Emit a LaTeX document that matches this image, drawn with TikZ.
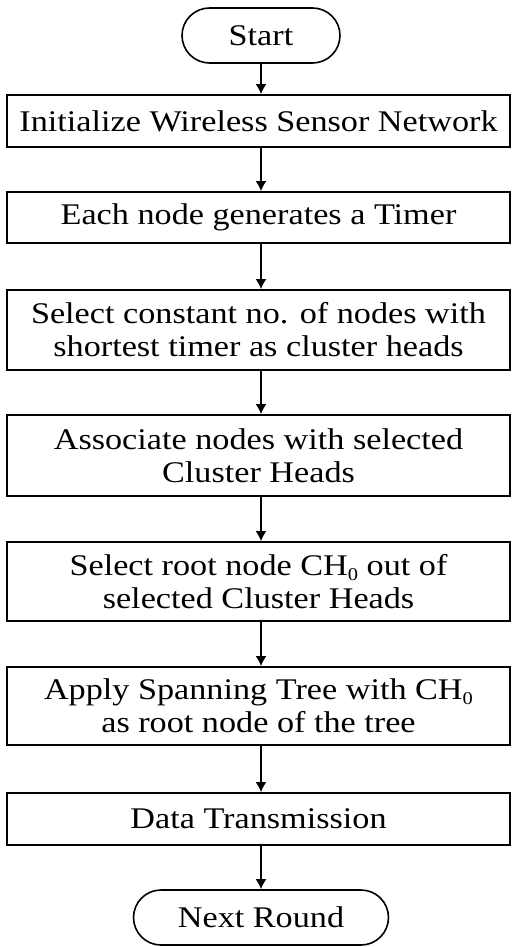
\documentclass[tikz,border=0pt]{standalone}
\usepackage{fontspec}
\setmainfont[FakeStretch=1.14]{Liberation Serif}
\usetikzlibrary{arrows.meta,shapes.misc}
\newcommand{\subzero}{\raisebox{-5pt}{\fontsize{18}{18}\selectfont 0}}
\begin{document}
\begin{tikzpicture}[x=1pt,y=-1pt,
  every node/.style={font=\fontsize{30}{33}\selectfont, align=center, inner sep=0pt},
  stepbox/.style={draw, line width=1.8pt, minimum width=503pt},
  term/.style={draw, line width=1.6pt, rounded rectangle, minimum height=55pt},
  conn/.style={line width=1.8pt, -{Latex[width=11pt,length=10pt]}}]
\useasboundingbox (0,0) rectangle (511,947);
\node[term, minimum width=158pt] (s) at (261,35.5) {Start};
\node[stepbox, minimum height=52pt] (b1) at (258.5,121) {Initialize Wireless Sensor Network};
\node[stepbox, minimum height=51pt] (b2) at (258.5,217.5) {Each node generates a Timer};
\node[stepbox, minimum height=80pt] (b3) at (258.5,330) {Select constant no. of nodes with\\shortest timer as cluster heads};
\node[stepbox, minimum height=81pt] (b4) at (258.5,455.5) {Associate nodes with selected\\Cluster Heads};
\node[stepbox, minimum height=79pt] (b5) at (258.5,581.5) {Select root node CH\subzero{} out of\\selected Cluster Heads};
\node[stepbox, minimum height=78pt] (b6) at (258.5,706) {Apply Spanning Tree with CH\subzero\\as root node of the tree};
\node[stepbox, minimum height=52pt] (b7) at (258.5,819) {Data Transmission};
\node[term, minimum width=255pt] (e) at (261,917.5) {Next Round};
\draw[conn] (s.south) -- (s.south |- b1.north);
\draw[conn] (s.south |- b1.south) -- (s.south |- b2.north);
\draw[conn] (s.south |- b2.south) -- (s.south |- b3.north);
\draw[conn] (s.south |- b3.south) -- (s.south |- b4.north);
\draw[conn] (s.south |- b4.south) -- (s.south |- b5.north);
\draw[conn] (s.south |- b5.south) -- (s.south |- b6.north);
\draw[conn] (s.south |- b6.south) -- (s.south |- b7.north);
\draw[conn] (s.south |- b7.south) -- (e.north);
\end{tikzpicture}
\end{document}
